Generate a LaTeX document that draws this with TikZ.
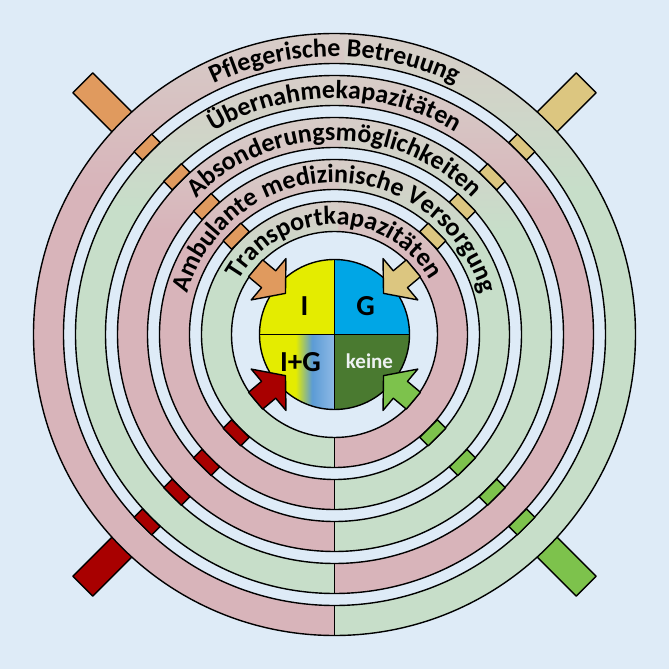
\documentclass[tikz,border=0pt]{standalone}
\usepackage{fontspec}
\setmainfont{Carlito}
\usetikzlibrary{decorations.text}
\definecolor{bg}{HTML}{DEEBF7}
\definecolor{rpink}{HTML}{D8B4BA}
\definecolor{rgreen}{HTML}{C7DEC9}
\definecolor{rtop}{HTML}{D7CDC8}
\definecolor{morange}{HTML}{E09A5E}
\definecolor{mtan}{HTML}{DCC680}
\definecolor{mred}{HTML}{A80000}
\definecolor{mgreen}{HTML}{7DC24C}
\definecolor{qyellow}{HTML}{E4EC00}
\definecolor{qblue}{HTML}{00A6E6}
\definecolor{qblueA}{HTML}{5B9BD5}
\definecolor{qblueB}{HTML}{8FBAE6}
\definecolor{qgreen}{HTML}{4A7A30}
\definecolor{qtext}{HTML}{EEF2F2}
\pgfdeclareverticalshading{pinkshade}{100bp}{color(0bp)=(rpink); color(62bp)=(rpink); color(75bp)=(rtop); color(100bp)=(rtop)}
\pgfdeclareverticalshading{greenshade}{100bp}{color(0bp)=(rgreen); color(62bp)=(rgreen); color(75bp)=(rtop); color(100bp)=(rtop)}
\pgfdeclarehorizontalshading{igshade}{100bp}{color(0bp)=(qyellow); color(49bp)=(qyellow); color(60bp)=(qblueA); color(75bp)=(qblueB); color(100bp)=(qblueB)}
\newcommand\arcfnt{\bfseries\fontsize{26}{30}\selectfont}
\tikzset{
  ringline/.style={draw=black, line width=1.4pt, line join=round},
  arctext/.style={decorate, decoration={text along path, text align=center, text={|\arcfnt|#1}}},
  bigtext/.style={font=\bfseries\fontsize{29}{32}\selectfont, text=black},
}
\begin{document}
\begin{tikzpicture}[x=1pt, y=1pt]
\useasboundingbox (-334.5,-334.5) rectangle (334.5,334.5);
\fill[bg] (-334.5,-334.5) rectangle (334.5,334.5);
% outer big markers
\foreach \a/\c in {135/morange, 45/mtan, 225/mred, 315/mgreen}
  \draw[ringline, fill=\c, rotate=\a] (290,-14) rectangle (356,14);
% rings
\foreach \ro/\lc/\rc in {301/pinkshade/greenshade, 259/greenshade/pinkshade, 217/pinkshade/greenshade, 175/pinkshade/greenshade, 133/greenshade/pinkshade} {
  \pgfmathsetmacro\ri{\ro-30}
  \shade[shading=\rc] (0,-\ro) arc[start angle=-90, end angle=90, radius=\ro] -- (0,\ri) arc[start angle=90, end angle=-90, radius=\ri] -- cycle;
  \shade[shading=\lc] (0,-\ro) arc[start angle=270, end angle=88, radius=\ro] -- (88:\ri) arc[start angle=88, end angle=270, radius=\ri] -- cycle;
  \draw[ringline] (0,0) circle[radius=\ro];
  \draw[ringline] (0,0) circle[radius=\ri];
  \draw[ringline] (0,-\ri) -- (0,-\ro);
}
% gap markers
\foreach \a/\c in {135/morange, 45/mtan, 225/mred, 315/mgreen}
  \foreach \g in {259,217,175,133}
    \draw[ringline, fill=\c, rotate=\a] (\g,-12.5) rectangle (\g+12,12.5);
% arc texts
\path[arctext={Pflegerische Betreuung}] (180:278) arc[start angle=180, end angle=0, radius=278];
\path[arctext={Übernahmekapazitäten}] (180:236) arc[start angle=180, end angle=0, radius=236];
\path[arctext={Absonderungsmöglichkeiten}] (180:194) arc[start angle=180, end angle=0, radius=194];
\path[arctext={Ambulante medizinische Versorgung}] (180:152) arc[start angle=180, end angle=0, radius=152];
\path[arctext={Transportkapazitäten}] (180:110) arc[start angle=180, end angle=0, radius=110];
% center circle
\fill[qyellow] (0,0) -- (-75,0) arc[start angle=180, end angle=90, radius=75] -- cycle;
\fill[qblue] (0,0) -- (0,75) arc[start angle=90, end angle=0, radius=75] -- cycle;
\fill[qgreen] (0,0) -- (75,0) arc[start angle=0, end angle=-90, radius=75] -- cycle;
\shade[shading=igshade] (0,0) -- (0,-75) arc[start angle=270, end angle=180, radius=75] -- cycle;
\draw[ringline] (0,0) circle[radius=75];
\draw[ringline] (-75,0) -- (75,0);
\draw[ringline] (0,75) -- (0,-75);
% arrows
\foreach \a/\c in {140/morange, 40/mtan, 220/mred, 320/mgreen}
  \draw[ringline, fill=\c, rotate=\a] (103,-11) -- (86,-11) -- (86,-27) -- (64,0) -- (86,27) -- (86,11) -- (103,11) -- cycle;
% quadrant labels
\node[bigtext] (qi) at (-30,28) {I};
\node[bigtext] (qg) at (31,28) {G};
\node[bigtext] (qig) at (-34,-28) {I+G};
\node[font=\bfseries\fontsize{21}{24}\selectfont, text=qtext] (qk) at (35,-27) {keine};
\end{tikzpicture}
\end{document}
